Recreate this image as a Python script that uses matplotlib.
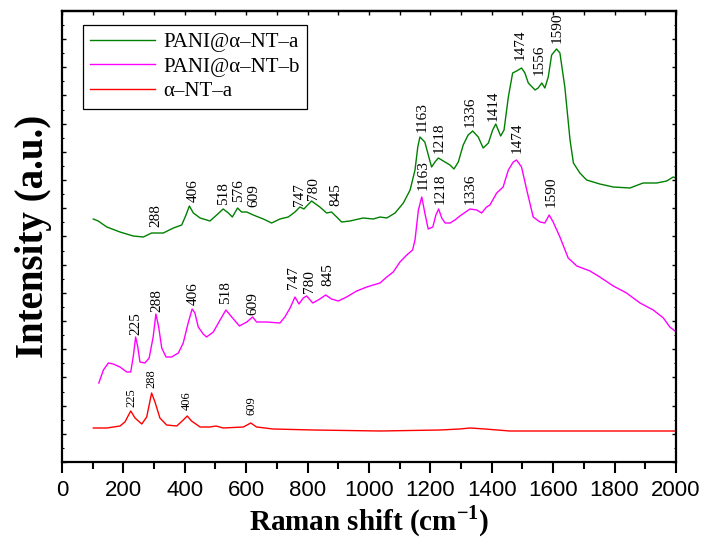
import matplotlib.pyplot as plt
from matplotlib.ticker import MultipleLocator, NullFormatter

# spectra (x in cm-1, intensity in arbitrary units)
green_x = [102, 118, 146, 189, 232, 265, 292, 330, 363, 390, 404, 415, 428, 450, 482,
           504, 525, 542, 555, 572, 585, 602, 623, 656, 683, 710, 737, 759, 775, 788,
           813, 840, 862, 878, 895, 911, 938, 981, 1014, 1036, 1058, 1085, 1112, 1134,
           1150, 1159, 1166, 1182, 1195, 1204, 1215, 1226, 1253, 1264, 1277, 1291, 1307,
           1323, 1338, 1356, 1372, 1389, 1403, 1413, 1421, 1429, 1440, 1454, 1468, 1481,
           1497, 1508, 1519, 1541, 1551, 1563, 1573, 1584, 1595, 1611, 1622, 1638, 1655,
           1666, 1687, 1709, 1752, 1796, 1850, 1893, 1937, 1970, 1991, 2000]
green_y = [243, 241, 235, 230, 226, 225, 229, 229, 234, 237, 247, 256, 249, 244, 241,
           247, 253, 249, 245, 254, 250, 250, 247, 243, 239, 243, 245, 250, 255, 253,
           261, 255, 249, 250, 245, 240, 241, 244, 243, 245, 244, 249, 259, 272,
           292, 315, 325, 320, 305, 295, 300, 304, 299, 297, 293, 300, 317,
           327, 331, 325, 314, 319, 332, 338, 332, 326, 332, 365, 389, 391,
           394, 389, 379, 372, 374, 379, 374, 385, 407, 413, 409, 375, 322,
           299, 289, 282, 278, 275, 274, 279, 279, 281, 285, 284]

magenta_x = [120, 135, 151, 167, 189, 211, 224, 232, 240, 247, 254, 270, 284, 297, 306,
             315, 325, 339, 357, 379, 395, 411, 424, 433, 444, 460, 471, 493, 515, 534,
             553, 578, 602, 621, 634, 667, 710, 726, 743, 759, 772, 786, 797, 817, 840,
             859, 878, 900, 927, 960, 993, 1014, 1036, 1058, 1079, 1101, 1123, 1142, 1150,
             1161, 1172, 1182, 1193, 1208, 1218, 1227, 1237, 1248, 1264, 1280, 1296, 1329,
             1351, 1367, 1383, 1394, 1416, 1437, 1454, 1470, 1481, 1497, 1514, 1535, 1557,
             1573, 1587, 1600, 1622, 1649, 1677, 1720, 1752, 1796, 1839, 1883, 1926, 1959,
             1980, 1997]
magenta_y = [79, 92, 99, 98, 95, 90, 90, 105, 125, 115, 100, 99, 104, 125, 148,
             135, 114, 105, 105, 109, 119, 139, 153, 149, 135, 128, 125, 130, 142, 152,
             145, 136, 140, 145, 140, 140, 139, 145, 154, 165, 158, 164, 166, 159, 163,
             167, 163, 161, 165, 171, 175, 177, 179, 185, 190, 200, 207, 212, 222,
             252, 265, 249, 233, 235, 247, 253, 244, 239, 239, 242, 246, 253,
             252, 249, 255, 257, 269, 275, 292, 300, 302, 295, 272, 245, 240,
             239, 247, 240, 225, 204, 196, 191, 185, 176, 169, 159, 152, 144,
             135, 131]

red_x = [102, 146, 189, 205, 224, 238, 260, 276, 292, 303, 319, 341, 374, 395, 408,
         422, 450, 482, 502, 525, 591, 615, 634, 688, 819, 1036, 1231, 1296, 1329,
         1378, 1459, 2000]
red_y = [34, 34, 36, 40, 51, 44, 38, 45, 69, 60, 44, 37, 36, 42, 46,
         41, 35, 35, 36, 34, 35, 39, 35, 33, 32, 31, 32, 33, 34,
         33, 31, 31]

# peak labels: (text, x, y)
green_peaks = [("288", 306, 235), ("406", 428, 260), ("518", 528, 257), ("576", 574, 260),
               ("609", 625, 255), ("747", 775, 256), ("780", 819, 262), ("845", 892, 256),
               ("1163", 1172, 330), ("1218", 1229, 309), ("1336", 1331, 335),
               ("1414", 1405, 341), ("1474", 1492, 402), ("1556", 1554, 387),
               ("1590", 1612, 419)]
magenta_peaks = [("225", 240, 127), ("288", 308, 150), ("406", 428, 157), ("518", 534, 158),
                 ("609", 623, 147), ("747", 753, 173), ("780", 806, 169), ("845", 867, 176),
                 ("1163", 1175, 272), ("1218", 1231, 258), ("1336", 1331, 258),
                 ("1474", 1482, 309), ("1590", 1592, 255)]
red_peaks = [("225", 227, 55), ("288", 292, 74), ("406", 408, 52), ("609", 618, 47)]

plt.rcParams['font.family'] = ['Liberation Serif', 'DejaVu Serif']
plt.rcParams['mathtext.fontset'] = 'custom'
plt.rcParams['mathtext.rm'] = 'Liberation Serif:bold'

fig = plt.figure(figsize=(7.05, 5.42), dpi=100)
ax = fig.add_axes([0.0879, 0.1476, 0.8709, 0.8321])

ax.plot(green_x, green_y, color='#008000', lw=1.0, label='PANI@α–NT–a')
ax.plot(magenta_x, magenta_y, color='#ff00ff', lw=1.0, label='PANI@α–NT–b')
ax.plot(red_x, red_y, color='#ff0000', lw=1.0, label='α–NT–a')

for txt, x, y in green_peaks + magenta_peaks:
    ax.text(x, y, txt, rotation=90, ha='center', va='bottom', fontsize=11)
for txt, x, y in red_peaks:
    ax.text(x, y, txt, rotation=90, ha='center', va='bottom', fontsize=9)

ax.set_xlim(0, 2000)
ax.set_ylim(0, 451)

# bottom ticks point out, the other sides point in
ax.xaxis.set_major_locator(MultipleLocator(200))
ax.xaxis.set_minor_locator(MultipleLocator(100))
ax.tick_params(axis='x', which='major', direction='out', length=8, width=1.5, pad=5)
ax.tick_params(axis='x', which='minor', direction='out', length=5, width=1.5)
for lab in ax.get_xticklabels():
    lab.set_family('Liberation Sans')
    lab.set_fontsize(16)

ax.yaxis.set_major_locator(MultipleLocator(28.2))
ax.yaxis.set_minor_locator(MultipleLocator(14.1))
ax.yaxis.set_major_formatter(NullFormatter())
ax.tick_params(axis='y', which='major', direction='in', length=3, width=1, right=True)
ax.tick_params(axis='y', which='minor', direction='in', length=1.5, width=0.8, right=True)

top = ax.secondary_xaxis('top')
top.xaxis.set_major_locator(MultipleLocator(100))
top.xaxis.set_major_formatter(NullFormatter())
top.tick_params(direction='in', length=3, width=1)

for s in ax.spines.values():
    s.set_linewidth(1.6)
top.spines['top'].set_linewidth(1.6)

ax.set_xlabel('Raman shift (cm$^{\\mathrm{-1}}$)', fontsize=21, fontweight='bold', labelpad=2)
ax.set_ylabel('Intensity (a.u.)', fontsize=28, fontweight='bold', labelpad=4)

leg = ax.legend(loc='upper left', bbox_to_anchor=(0.034, 0.969), borderaxespad=0,
                fontsize=15, handlelength=3.1, handletextpad=0.4, labelspacing=0.25,
                borderpad=0.35, fancybox=False, framealpha=1)
leg.get_frame().set_edgecolor('black')
leg.get_frame().set_linewidth(0.9)

fig.savefig('out.png', dpi=100)
